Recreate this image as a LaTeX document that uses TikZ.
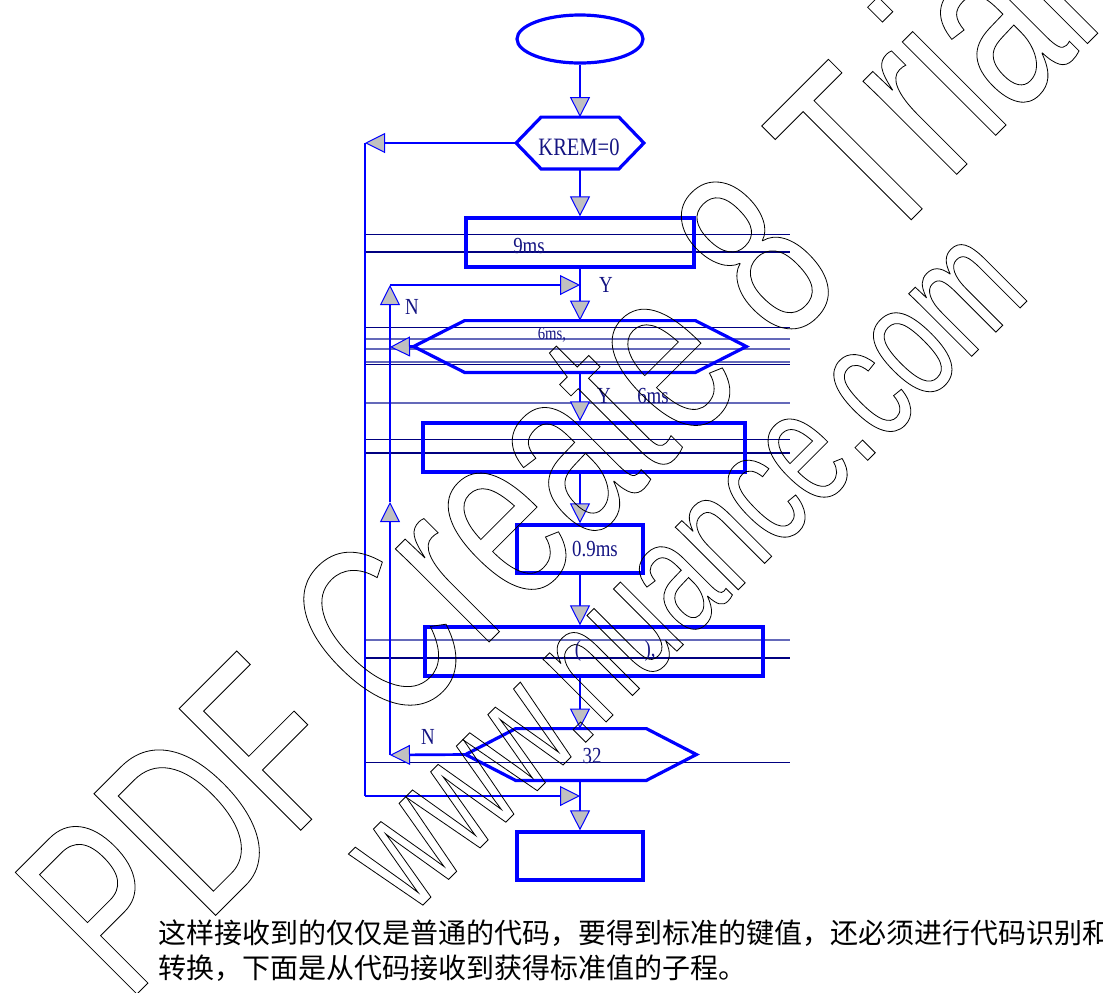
\documentclass[tikz,border=0pt]{standalone}
\usepackage{fontspec}
\setmainfont{Liberation Serif}
\newfontfamily\lblfont[FakeStretch=0.82]{Liberation Serif}
\newfontfamily\wmfont[FakeStretch=0.667]{Liberation Sans}
\newfontfamily\cjk{Noto Sans CJK SC}
\usetikzlibrary{calc,shapes.geometric,arrows.meta}
\definecolor{flowblue}{RGB}{0,0,255}
\definecolor{txtblue}{RGB}{20,20,130}
\definecolor{tipgray}{RGB}{192,192,192}
\definecolor{rulenavy}{RGB}{0,0,128}
\definecolor{rulelight}{RGB}{100,105,185}
\newcommand{\outlined}[1]{\special{pdf:literal direct 1 Tr 0.4 w}#1\special{pdf:literal direct 0 Tr}}

\begin{document}
\begin{tikzpicture}[x=0.5pt, y=-0.5pt,
    shp/.style = {draw=flowblue, line width=1.6pt},
    box/.style = {shp, rectangle, inner sep=0pt},
    hexa/.style = {rectangle, inner sep=0pt},
    conn/.style = {draw=flowblue, line width=1.35pt},
    tip/.style = {-{Triangle[length=10pt, width=10pt, fill=tipgray, line width=0.5pt]}},
    lbl/.style = {text=txtblue, inner sep=0pt, font=\lblfont\fontsize{11.5}{12}\selectfont},
    wm/.style = {rotate=45, anchor=base west, inner sep=0pt}]
      \useasboundingbox (0,0) rectangle (1103,992);

      \foreach \y/\c/\w in {234/rulenavy/0.5pt, 252/rulenavy/0.6pt, 327/rulenavy/0.5pt, 339/rulelight/0.6pt,
                            349/rulelight/0.6pt, 362/rulelight/0.6pt, 364/rulenavy/0.5pt, 403/rulelight/0.6pt,
                            439/rulenavy/0.5pt, 453/rulenavy/1pt, 640/rulelight/0.6pt, 658/rulenavy/1pt, 762/rulenavy/0.5pt}
               {
                 \draw [draw=\c, line width=\w] (365,\y) -- (790,\y);
               }

      \node [ellipse, shp, inner sep=0pt, minimum width=63pt, minimum height=24pt] (start) at (580,39) {};
      \node [hexa, minimum width=63.5pt, minimum height=25.5pt] (krem) at (580,143) {};
      \node [box, minimum width=114pt, minimum height=24.5pt] (bnine) at (580,242.5) {};
      \node [hexa, minimum width=166pt, minimum height=25.5pt] (hsix) at (580,346.5) {};
      \node [box, minimum width=161pt, minimum height=24.5pt] (bwide) at (584,447.5) {};
      \node [box, minimum width=63pt, minimum height=24pt] (bzero) at (580,549) {};
      \node [box, minimum width=169pt, minimum height=24.5pt] (bcall) at (594,651.5) {};
      \node [hexa, minimum width=115pt, minimum height=25.5pt] (hthr) at (581,754.5) {};
      \node [box, minimum width=63pt, minimum height=24pt] (bend) at (580,856) {};

      \foreach \n/\d in {krem/12.5pt, hsix/25.5pt, hthr/25pt}
               {
                 \draw [shp] (\n.west) -- ([xshift=\d]\n.north west) -- ([xshift=-\d]\n.north east)
                   -- (\n.east) -- ([xshift=-\d]\n.south east) -- ([xshift=\d]\n.south west) -- cycle;
               }

      \node [lbl, font=\lblfont\fontsize{12.5}{13}\selectfont] (tkrem) at (579,147) {KREM=0};
      \node [lbl] (tnine) at (529,246) {9ms};
      \node [lbl, font=\lblfont\fontsize{9}{9}\selectfont] (tsix) at (552,335) {6ms,};
      \node [lbl] (tzero) at (595,549) {0.9ms};
      \node [lbl] (topen) at (578,651) {(};
      \node [lbl] (tclose) at (650,651) {),};
      \node [lbl] (tthr) at (592,756) {32};
      \node [lbl] (yone) at (606,285) {Y};
      \node [lbl] (ytwo) at (604,396) {Y};
      \node [lbl] (ttwo) at (653,396) {6ms};
      \node [lbl] (none) at (412,307) {N};
      \node [lbl] (ntwo) at (428,737) {N};

      \coordinate (lout) at (365,143);
      \coordinate (lbot) at (365,796);
      \coordinate (ljoin) at (580,796);
      \coordinate (ntop) at (390,285);
      \coordinate (njoin) at (580,285);
      \coordinate (nmid) at (390,502);
      \coordinate (nbot) at (390,755);
      \coordinate (nsix) at (390,347);

      \draw [conn, tip] (start.south) -- (krem.north);
      \draw [conn, tip] (krem.south) -- (bnine.north);
      \draw [conn, tip] (bnine.south) -- (hsix.north);
      \draw [conn, tip] (hsix.south) -- (hsix.south |- bwide.north);
      \draw [conn, tip] (bwide.south -| bzero) -- (bzero.north);
      \draw [conn, tip] (bzero.south) -- (bzero.south |- bcall.north);
      \draw [conn, tip] (bcall.south -| bzero) -- (bzero |- hthr.north);
      \draw [conn, tip] (bzero |- hthr.south) -- (bend.north);

      \draw [conn, tip] (krem.west) -- (lout);
      \draw [conn] (lout) -- (lbot);
      \draw [conn, tip] (lbot) -- (ljoin);
      \draw [conn, tip] (hthr.west) -- (nbot);
      \draw [conn, tip] (nbot) -- (nmid);
      \draw [conn, tip] (nmid) -- (ntop);
      \draw [conn, tip] (ntop) -- (njoin);
      \draw [conn, tip] (hsix.west) -- (nsix);

      \node [anchor=west, inner sep=0pt, font=\cjk\fontsize{14}{14}\selectfont] (paraone) at (158,933)
        {这样接收到的仅仅是普通的代码，要得到标准的键值，还必须进行代码识别和};
      \node [anchor=west, inner sep=0pt, font=\cjk\fontsize{14}{14}\selectfont] (paratwo) at (158,968)
        {转换，下面是从代码接收到获得标准值的子程。};

      \node [wm, font=\wmfont\fontsize{125}{125}\selectfont] (wmtrial) at (127,1004) {\outlined{PDF Create 8 Trial}};
      \node [wm, font=\wmfont\fontsize{84}{84}\selectfont] (wmsite) at (411,917) {\outlined{www.nuance.com}};
\end{tikzpicture}
\end{document}
